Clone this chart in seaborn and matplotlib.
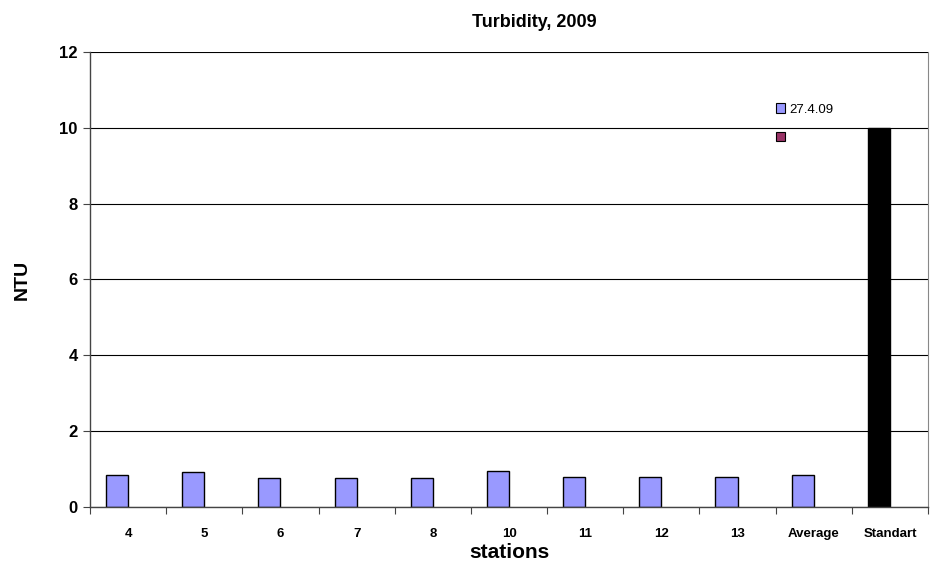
import matplotlib
matplotlib.use("Agg")
import matplotlib.pyplot as plt
import seaborn as sns
import pandas as pd
import numpy as np
from matplotlib.patches import Patch

stations = ["4", "5", "6", "7", "8", "10", "11", "12", "13", "Average", "Standart"]
turbidity = [0.84, 0.91, 0.77, 0.77, 0.77, 0.94, 0.80, 0.80, 0.80, 0.84, 10.0]
empty_series = [0.0] * len(stations)
series_names = ["27.4.09", ""]

df = pd.concat([
    pd.DataFrame({"station": stations, "NTU": turbidity, "series": "s1"}),
    pd.DataFrame({"station": stations, "NTU": empty_series, "series": "s2"}),
], ignore_index=True)

sns.set_style("white")
plt.rcParams["font.family"] = ["Liberation Sans", "DejaVu Sans"]
plt.rcParams["text.color"] = "black"
plt.rcParams["axes.labelcolor"] = "black"
plt.rcParams["xtick.color"] = "black"
plt.rcParams["ytick.color"] = "black"

fig = plt.figure(figsize=(9.31, 5.68), dpi=100)
ax = fig.add_axes([0.0967, 0.1074, 0.9001, 0.8011])

blue = "#9999FF"
maroon = "#993366"
sns.barplot(data=df, x="station", y="NTU", hue="series", hue_order=["s1", "s2"],
            order=stations, palette={"s1": blue, "s2": maroon}, saturation=1,
            width=0.58, gap=0, edgecolor="black", linewidth=1.0,
            legend=False, errorbar=None, ax=ax)

# the second series has no measurements: hide its empty bars
for patch in ax.containers[1]:
    patch.set_visible(False)

# the standard limit bar is drawn in black
for patch in ax.containers[0]:
    if patch.get_height() >= 9.5:
        patch.set_facecolor("black")

ax.set_ylim(0, 12)
ax.set_xlim(-0.5, len(stations) - 0.5)
ax.set_yticks(np.arange(0, 13, 2))
ax.yaxis.grid(True, color="black", linewidth=0.8)
ax.set_axisbelow(True)

ax.tick_params(axis="y", direction="out", length=5, width=0.8, color="#444444",
               left=True, labelsize=12, pad=4)
for lbl in ax.get_yticklabels():
    lbl.set_fontweight("bold")

ax.set_xticks(range(len(stations)))
ax.set_xticklabels(stations, fontsize=9.5, fontweight="bold")
ax.set_xticks(np.arange(-0.5, len(stations), 1.0), minor=True)
ax.tick_params(axis="x", which="major", length=0, pad=15)
ax.tick_params(axis="x", which="minor", direction="out", length=5, width=0.8,
               color="#444444", bottom=True)

for side in ["left", "bottom"]:
    ax.spines[side].set_color("#444444")
    ax.spines[side].set_linewidth(1.0)
ax.spines["top"].set_visible(False)
ax.spines["right"].set_color("#888888")
ax.spines["right"].set_linewidth(0.8)

ax.set_ylabel("NTU", fontsize=14, fontweight="bold", labelpad=20)
ax.set_xlabel("stations", fontsize=15, fontweight="bold", labelpad=2)
ax.set_title("Turbidity, 2009", fontsize=13, fontweight="bold", x=0.53, pad=18)

handles = [Patch(facecolor=blue, edgecolor="black", linewidth=0.8),
           Patch(facecolor=maroon, edgecolor="black", linewidth=0.8)]
ax.legend(handles, series_names, loc="upper left", bbox_to_anchor=(0.804, 0.913),
          frameon=False, fontsize=9.5, handlelength=0.7, handleheight=0.7,
          handletextpad=0.3, labelspacing=1.2)

fig.savefig("out.png", dpi=100)
